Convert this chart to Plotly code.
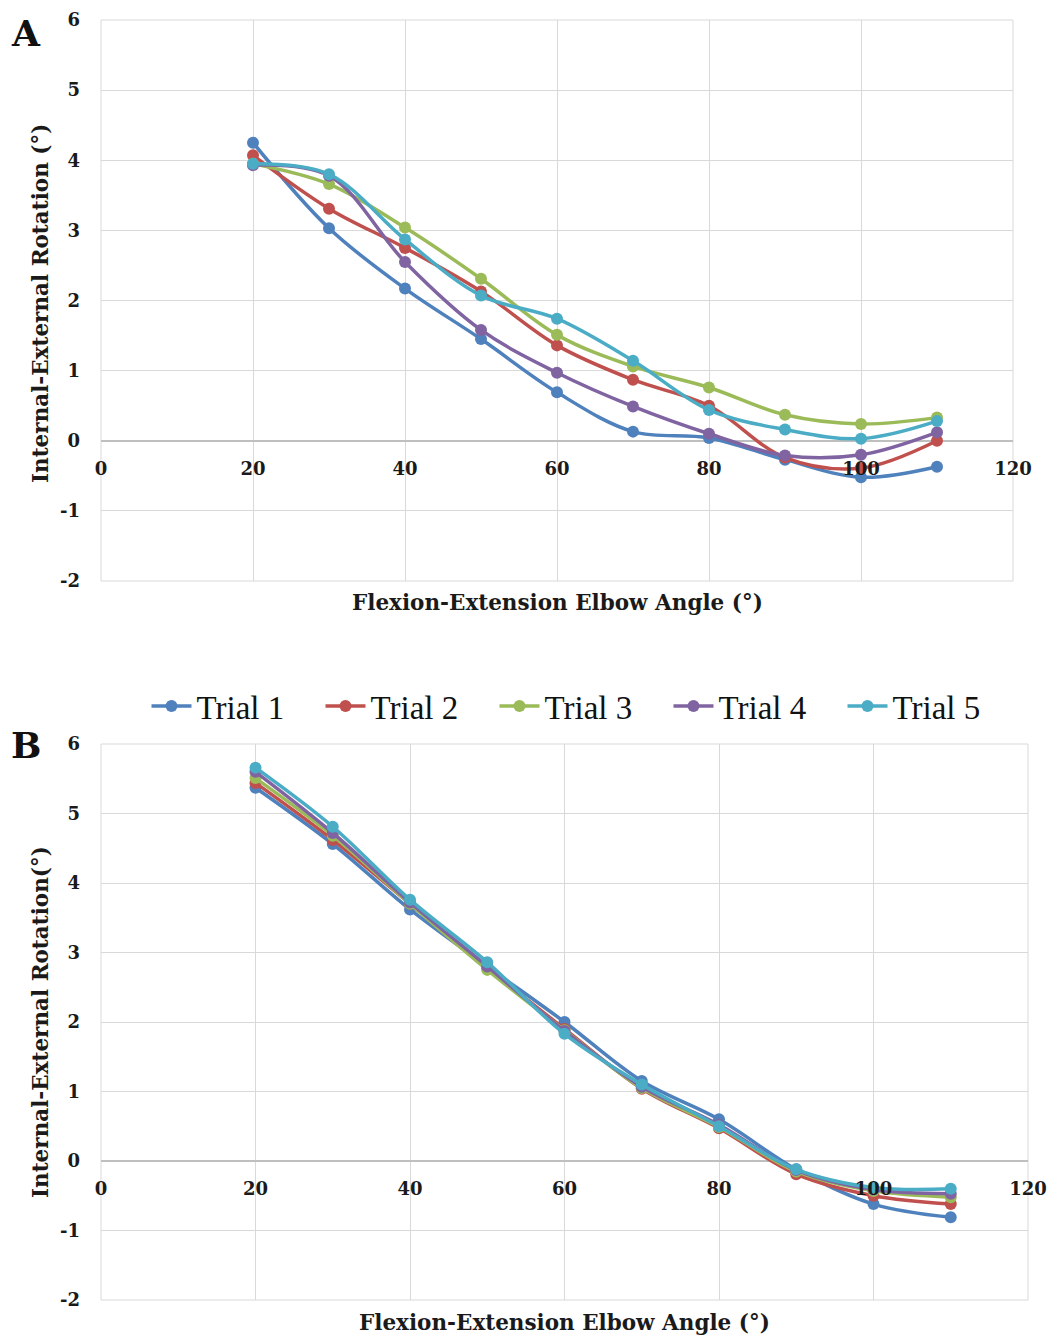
import plotly.graph_objects as go

angles = [20, 30, 40, 50, 60, 70, 80, 90, 100, 110]
trial_names = ["Trial 1", "Trial 2", "Trial 3", "Trial 4", "Trial 5"]
colors = ["#4F81BD", "#C0504D", "#9BBB59", "#8064A2", "#4BACC6"]

# Panel A values
a_trial1 = [4.25, 3.03, 2.17, 1.45, 0.69, 0.13, 0.04, -0.27, -0.52, -0.37]
a_trial2 = [4.07, 3.31, 2.75, 2.13, 1.36, 0.87, 0.50, -0.24, -0.39, 0.00]
a_trial3 = [3.95, 3.66, 3.04, 2.31, 1.51, 1.06, 0.76, 0.37, 0.24, 0.33]
a_trial4 = [3.93, 3.78, 2.55, 1.58, 0.97, 0.49, 0.10, -0.21, -0.20, 0.12]
a_trial5 = [3.95, 3.80, 2.87, 2.07, 1.74, 1.14, 0.44, 0.16, 0.03, 0.28]

# Panel B values
b_trial1 = [5.37, 4.56, 3.62, 2.80, 2.00, 1.15, 0.60, -0.12, -0.62, -0.81]
b_trial2 = [5.44, 4.62, 3.70, 2.78, 1.90, 1.04, 0.47, -0.19, -0.50, -0.62]
b_trial3 = [5.51, 4.68, 3.70, 2.75, 1.88, 1.05, 0.49, -0.15, -0.43, -0.52]
b_trial4 = [5.60, 4.72, 3.72, 2.80, 1.87, 1.07, 0.52, -0.13, -0.41, -0.47]
b_trial5 = [5.66, 4.81, 3.76, 2.86, 1.83, 1.10, 0.50, -0.12, -0.38, -0.40]

x_ticks = [0, 20, 40, 60, 80, 100, 120]
y_ticks = [-2, -1, 0, 1, 2, 3, 4, 5, 6]

a_series = [a_trial1, a_trial2, a_trial3, a_trial4, a_trial5]
b_series = [b_trial1, b_trial2, b_trial3, b_trial4, b_trial5]

W, H = 1050, 1337
FONT = "DejaVu Serif"

fig = go.Figure()

for i, (name, col) in enumerate(zip(trial_names, colors)):
    fig.add_trace(go.Scatter(
        x=angles, y=a_series[i], name=name, mode="lines+markers",
        line=dict(color=col, width=3.5, shape="spline", smoothing=1),
        marker=dict(color=col, size=12),
        xaxis="x", yaxis="y", legendgroup=name, showlegend=True))
for i, (name, col) in enumerate(zip(trial_names, colors)):
    fig.add_trace(go.Scatter(
        x=angles, y=b_series[i], name=name, mode="lines+markers",
        line=dict(color=col, width=3.5, shape="spline", smoothing=1),
        marker=dict(color=col, size=12),
        xaxis="x2", yaxis="y2", legendgroup=name, showlegend=False))

def px_x(p):
    return p / W

def px_y(p):
    return (H - p) / H

# domains
xa_dom = [px_x(101), px_x(1013)]
xb_dom = [px_x(101), px_x(1028)]
ya_dom = [px_y(581), px_y(20)]
yb_dom = [px_y(1300), px_y(744)]

pos_a = ya_dom[0] + 0.25 * (ya_dom[1] - ya_dom[0])
pos_b = yb_dom[0] + 0.25 * (yb_dom[1] - yb_dom[0])

tickfont = dict(family=FONT, size=18, color="#1a1a1a")
grid = "#d9d9d9"

common_x = dict(range=[0, 120], tickmode="array", tickvals=x_ticks,
                ticktext=["<b>%d</b>" % v for v in x_ticks], showgrid=True, gridcolor=grid,
                gridwidth=1, zeroline=False, showline=False, ticks="",
                tickfont=tickfont, anchor="free", ticklabelstandoff=15, automargin=False)
common_y = dict(range=[-2, 6], tickmode="array", tickvals=y_ticks,
                ticktext=["<b>%d</b>" % v for v in y_ticks], showgrid=True, gridcolor=grid,
                gridwidth=1, zeroline=True, zerolinecolor="#bfbfbf", zerolinewidth=1.5,
                showline=False, ticks="", tickfont=tickfont, ticklabelstandoff=20,
                automargin=False)

fig.update_layout(
    template="none",
    width=W, height=H,
    margin=dict(l=0, r=0, t=0, b=0, autoexpand=False),
    paper_bgcolor="white", plot_bgcolor="white",
    xaxis=dict(domain=xa_dom, position=pos_a, **common_x),
    yaxis=dict(domain=ya_dom, anchor="x", **common_y),
    xaxis2=dict(domain=xb_dom, position=pos_b, **common_x),
    yaxis2=dict(domain=yb_dom, anchor="x2", **common_y),
    legend=dict(orientation="h", x=0.5538, xanchor="center", y=px_y(706), yanchor="middle",
                font=dict(family="Liberation Serif", size=33, color="#111111"),
                entrywidth=119, entrywidthmode="pixels", itemwidth=40,
                bgcolor="rgba(0,0,0,0)", borderwidth=0),
    showlegend=True,
)

# plot area borders
for xr, yr in [("x domain", "y domain"), ("x2 domain", "y2 domain")]:
    fig.add_shape(type="rect", xref=xr, yref=yr, x0=0, x1=1, y0=0, y1=1,
                  line=dict(color=grid, width=1), layer="below")

title_font = dict(family=FONT, size=21.5, color="#1a1a1a")
anns = [
    dict(text="<b>A</b>", x=px_x(26), y=px_y(33), font=dict(family=FONT, size=36, color="#111")),
    dict(text="<b>B</b>", x=px_x(26), y=px_y(745), font=dict(family=FONT, size=36, color="#111")),
    dict(text="<b>Flexion-Extension Elbow Angle (°)</b>", x=px_x(557), y=px_y(602), font=title_font),
    dict(text="<b>Flexion-Extension Elbow Angle (°)</b>", x=px_x(564), y=px_y(1322), font=title_font),
    dict(text="<b>Internal-External Rotation (°)</b>", x=px_x(40), y=px_y(304), font=title_font, textangle=-90),
    dict(text="<b>Internal-External Rotation(°)</b>", x=px_x(40), y=px_y(1022), font=title_font, textangle=-90),
]
for a in anns:
    fig.add_annotation(xref="paper", yref="paper", showarrow=False,
                       xanchor="center", yanchor="middle", **a)

fig.write_html("out.html",
               config={"displayModeBar": False},
               post_script="document.body.style.margin='0';document.body.style.overflow='hidden';")
